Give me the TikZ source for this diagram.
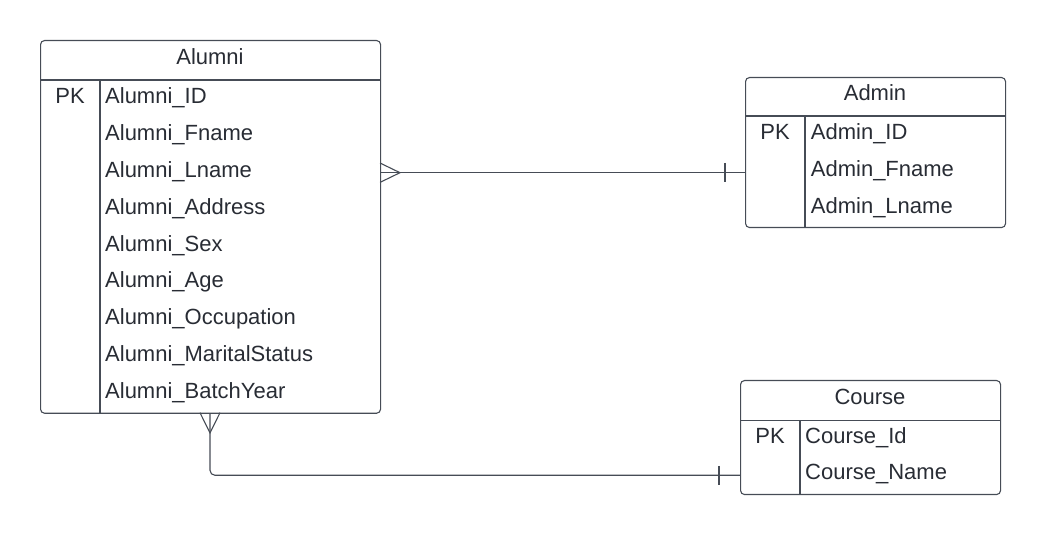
\documentclass[tikz,border=0pt]{standalone}
\usepackage{fontspec}
\setmainfont{Liberation Sans}
\definecolor{linecol}{RGB}{70,76,86}
\definecolor{textcol}{RGB}{40,44,52}
\tikzset{
  entity/.style={draw=linecol, line width=1.1pt, rounded corners=4pt, inner sep=0pt, anchor=north west},
  rel/.style={draw=linecol, line width=1.1pt},
  title/.style={anchor=base, inner sep=0pt, text=textcol, font=\fontsize{22}{26}\selectfont},
  key/.style={anchor=base, inner sep=0pt, text=textcol, font=\fontsize{22}{26}\selectfont},
  attr/.style={anchor=base west, inner sep=0pt, text=textcol, font=\fontsize{22}{26}\selectfont}
}
\begin{document}
\begin{tikzpicture}[x=1pt,y=-1pt]
  \useasboundingbox (0,0) rectangle (1045,534);
  \node[entity, minimum width=340pt, minimum height=372.7pt] (alumni) at (40,40) {};
  \draw[rel] (40,80) -- (380,80);
  \draw[rel] (100,80) -- (100,412.7);
  \node[title] (al0) at (210,64.3) {Alumni};
  \node[key] (alpk) at (70,104) {PK};
  \node[attr] (al1) at (105,104) {Alumni\_ID};
  \node[attr] (al2) at (105,140.8) {Alumni\_Fname};
  \node[attr] (al3) at (105,177.6) {Alumni\_Lname};
  \node[attr] (al4) at (105,214.4) {Alumni\_Address};
  \node[attr] (al5) at (105,251.2) {Alumni\_Sex};
  \node[attr] (al6) at (105,288) {Alumni\_Age};
  \node[attr] (al7) at (105,324.8) {Alumni\_Occupation};
  \node[attr] (al8) at (105,361.6) {Alumni\_MaritalStatus};
  \node[attr] (al9) at (105,398.4) {Alumni\_BatchYear};

  \node[entity, minimum width=260pt, minimum height=150pt] (admin) at (745,77) {};
  \draw[rel] (745,116) -- (1005,116);
  \draw[rel] (805,116) -- (805,227);
  \node[title] (ad0) at (875,100.7) {Admin};
  \node[key] (adpk) at (775,140) {PK};
  \node[attr] (ad1) at (810.7,140) {Admin\_ID};
  \node[attr] (ad2) at (810.7,176.8) {Admin\_Fname};
  \node[attr] (ad3) at (810.7,213.6) {Admin\_Lname};

  \node[entity, minimum width=260pt, minimum height=114pt] (course) at (740,380) {};
  \draw[rel] (740,420.7) -- (1000,420.7);
  \draw[rel] (800,420.7) -- (800,494);
  \node[title] (co0) at (870,404.3) {Course};
  \node[key] (copk) at (770,443.3) {PK};
  \node[attr] (co1) at (805,443.3) {Course\_Id};
  \node[attr] (co2) at (805,480) {Course\_Name};

  \coordinate (lnk1) at (0,172.7);
  \coordinate (lnk2) at (210,475.3);
  \draw[rel] (alumni.east |- lnk1) -- (admin.west |- lnk1);
  \draw[rel] (380,163) -- (400,172.7) -- (380,182.4);
  \draw[rel] (725,163) -- (725,182.4);
  \draw[rel, rounded corners=5pt] (alumni.south -| lnk2) |- (course.west |- lnk2);
  \draw[rel] (200,412.7) -- (210,433) -- (220,412.7);
  \draw[rel] (719,466) -- (719,485);
\end{tikzpicture}
\end{document}
